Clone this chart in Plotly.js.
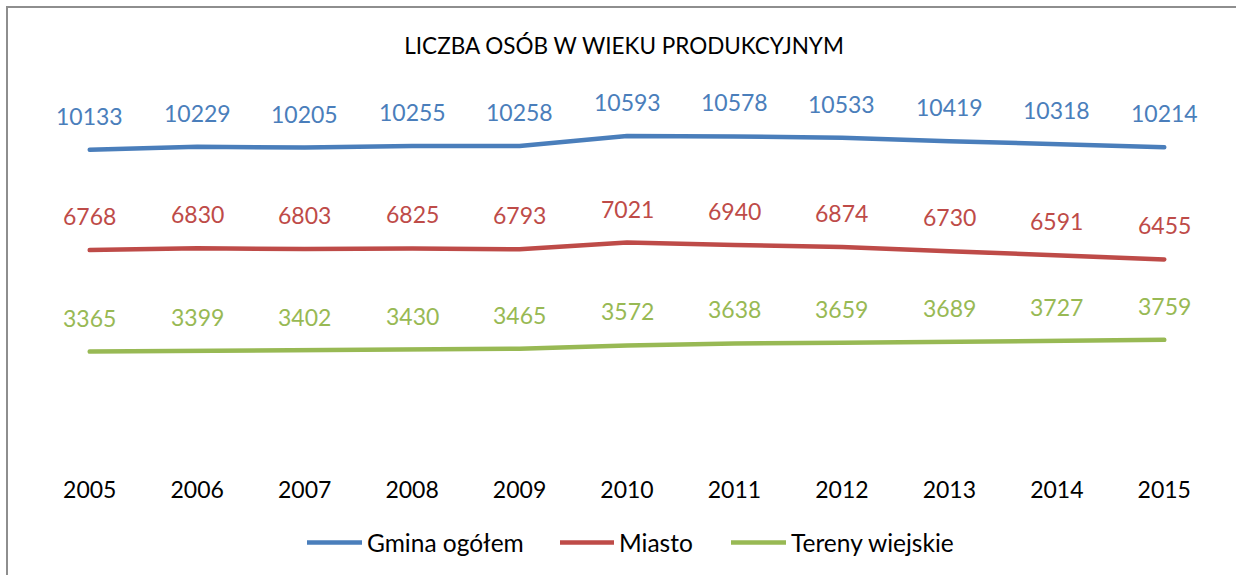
<!DOCTYPE html>
<html>
<head>
<meta charset="utf-8">
<script src="https://cdn.plot.ly/plotly-3.0.1.min.js"></script>
<style>
  html, body { margin: 0; padding: 0; background: #fff; }
  #chart { width: 1236px; height: 575px; position: absolute; left: 0; top: 0; }
  #frame { position: absolute; left: 6px; top: 6px; width: 1300px; height: 700px;
           border-left: 2px solid #8e8e8e; border-top: 2px solid #8e8e8e; pointer-events: none; }
  .js-line { stroke-linecap: round; stroke-linejoin: round; }
</style>
</head>
<body>
<div id="chart"></div>
<div id="frame"></div>
<script>
const years = ["2005","2006","2007","2008","2009","2010","2011","2012","2013","2014","2015"];
const gminaOgolem = [10133,10229,10205,10255,10258,10593,10578,10533,10419,10318,10214];
const miasto = [6768,6830,6803,6825,6793,7021,6940,6874,6730,6591,6455];
const tereny = [3365,3399,3402,3430,3465,3572,3638,3659,3689,3727,3759];
const seriesNames = ["Gmina ogółem","Miasto","Tereny wiejskie"];
const colors = ["#4A7EBB","#BE4B48","#98B954"];
const title = "LICZBA OSÓB W WIEKU PRODUKCYJNYM";

const FONT = "Lato, 'Open Sans', sans-serif";
const W = 1236, H = 575;
const mL = 36, mR = 18, mT = 93.5, mB = 122.7;
const plotW = W - mL - mR, plotH = H - mT - mB;
const px2x = px => (px - mL) / plotW;
const py2y = py => (H - mB - py) / plotH;

const allSeries = [gminaOgolem, miasto, tereny];
const traces = allSeries.map((vals, i) => ({
  type: "scatter", mode: "lines", x: years, y: vals, name: seriesNames[i],
  line: { color: colors[i], width: 4.5 }, showlegend: false, hoverinfo: "skip"
}));

const annotations = [];
allSeries.forEach((vals, i) => {
  vals.forEach((v, j) => {
    annotations.push({
      x: j, y: v, xref: "x", yref: "y", text: String(v), showarrow: false,
      yshift: 34, xanchor: "center", yanchor: "middle",
      font: { family: FONT, size: 23, color: colors[i] }
    });
  });
});

// custom legend
const legendItems = [
  { lineStart: 307, lineEnd: 362, textStart: 365 },
  { lineStart: 560, lineEnd: 614, textStart: 617 },
  { lineStart: 731, lineEnd: 786, textStart: 789 }
];
const legendY = 543;
const shapes = [];
legendItems.forEach((it, i) => {
  shapes.push({ type: "line", xref: "paper", yref: "paper",
    x0: px2x(it.lineStart), x1: px2x(it.lineEnd), y0: py2y(legendY), y1: py2y(legendY),
    line: { color: colors[i], width: 4.5 } });
  annotations.push({ xref: "paper", yref: "paper", x: px2x(it.textStart), y: py2y(legendY),
    text: seriesNames[i], showarrow: false, xanchor: "left", yanchor: "middle",
    font: { family: FONT, size: 24.5, color: "#000" } });
});

const layout = {
  width: W, height: H,
  margin: { l: mL, r: mR, t: mT, b: mB, pad: 0 },
  paper_bgcolor: "#fff", plot_bgcolor: "#fff",
  title: { text: title, x: 0.4975, xref: "paper", xanchor: "center", y: 1 - 46/H, yanchor: "middle",
           font: { family: FONT, size: 22.5, color: "#000" } },
  xaxis: { type: "category", range: [-0.5, 10.5], showgrid: false, zeroline: false, showline: false,
           ticks: "", ticklabelstandoff: 22,
           tickfont: { family: FONT, size: 23, color: "#000" }, fixedrange: true },
  yaxis: { range: [0, 12000], visible: false, showgrid: false, zeroline: false, fixedrange: true },
  showlegend: false,
  annotations: annotations, shapes: shapes
};

Plotly.newPlot("chart", traces, layout, { staticPlot: true, displayModeBar: false });
</script>
</body>
</html>
